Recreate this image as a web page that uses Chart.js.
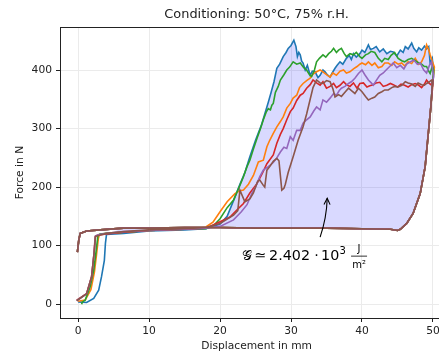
<!DOCTYPE html>
<html lang="en">
<head>
  <meta charset="UTF-8" />
  <title>Conditioning: 50°C, 75% r.H.</title>
  <script src="https://cdn.jsdelivr.net/npm/chart.js"></script>
  <style>
    html, body { margin: 0; padding: 0; background: #fff; }
    canvas { display: block; }
  </style>
</head>
<body>
  <canvas id="grafica" width="439" height="354"></canvas>

  <script>
    // --- datos (desplazamiento en mm, fuerza en N) ---
    const blueX = [0.0, 1.2, 2.2, 2.9, 3.3, 3.7, 3.85, 4.0, 6.4, 10, 15, 18, 20, 21, 22, 22.8, 23.5, 24.2, 25, 25.8, 26.3, 26.8, 27.2, 27.6, 28, 28.4, 28.9, 29.3, 29.6, 30.0, 30.4, 30.7, 30.9, 31.1, 31.3, 31.5, 31.7, 32.0, 32.3, 32.7, 33.0, 33.4, 33.8, 34.1, 34.5, 34.8, 35.1, 35.5, 35.8, 36.2, 36.5, 36.9, 37.3, 37.8, 38.2, 38.5, 38.8, 39.2, 39.7, 40.0, 40.4, 40.9, 41.2, 41.6, 42.0, 42.5, 43.0, 43.5, 44.0, 44.4, 44.9, 45.4, 45.8, 46.1, 46.5, 47.0, 47.3, 47.7, 48.0, 48.4, 48.8, 49.1, 49.4, 49.6, 49.9, 50.1];
    const blueY = [4, 3, 10, 24, 47, 75, 104, 119, 121, 125, 127, 129, 137, 150, 180, 205, 225, 252, 280, 305, 325, 345, 362, 380, 403, 410, 423, 430, 437, 442, 451, 440, 423, 430, 426, 415, 412, 400, 408, 391, 398, 397, 387, 391, 400, 397, 392, 388, 395, 403, 408, 414, 410, 420, 425, 418, 428, 422, 428, 434, 430, 443, 435, 437, 440, 431, 436, 428, 432, 431, 424, 434, 430, 440, 436, 446, 437, 431, 438, 434, 441, 436, 440, 412, 420, 395];

    const orangeX = [0.0, 1.0, 1.8, 2.3, 2.6, 2.85, 3.0, 4.0, 6.4, 10, 15, 18, 19, 20, 21, 22.1, 22.8, 23.3, 24.0, 24.7, 25.4, 26.1, 26.6, 27.0, 27.5, 28.0, 28.5, 28.9, 29.4, 29.9, 30.3, 30.8, 31.2, 31.7, 32.2, 32.7, 33.1, 33.6, 34.1, 34.5, 35.0, 35.5, 35.9, 36.4, 36.9, 37.4, 37.8, 38.3, 38.8, 39.3, 39.7, 40.0, 40.5, 40.9, 41.4, 41.8, 42.3, 42.8, 43.2, 43.7, 44.2, 44.6, 45.1, 45.6, 46.0, 46.5, 47.0, 47.5, 48.0, 48.4, 48.8, 49.1, 49.4, 49.6, 49.9, 50.2];
    const orangeY = [5, 7, 25, 55, 85, 112, 119, 121, 123, 126, 128, 132, 140, 158, 175, 189, 194, 195, 205, 220, 243, 246, 269, 280, 292, 303, 312, 320, 335, 343, 352, 357, 370, 377, 382, 386, 393, 397, 400, 397, 392, 388, 395, 391, 398, 400, 395, 397, 402, 406, 410, 412, 409, 414, 408, 412, 404, 406, 412, 412, 408, 414, 410, 412, 407, 414, 411, 420, 410, 414, 425, 443, 435, 426, 415, 405];

    const greenX = [0.5, 0.6, 1.0, 1.7, 2.2, 2.5, 2.8, 3.1, 4.0, 6.4, 10, 15, 18, 19, 20, 21, 21.9, 22.8, 23.3, 23.8, 24.2, 24.7, 25.2, 25.7, 26.1, 26.5, 26.8, 27.1, 27.3, 27.5, 27.8, 28.2, 28.5, 29.0, 29.4, 29.8, 30.3, 30.8, 31.3, 31.8, 32.2, 32.6, 32.9, 33.3, 33.6, 34.0, 34.5, 34.9, 35.3, 35.7, 36.0, 36.4, 36.7, 37.1, 37.5, 37.8, 38.3, 38.8, 39.2, 39.7, 40.0, 40.5, 40.9, 41.3, 41.8, 42.3, 42.8, 43.2, 43.7, 44.1, 44.6, 45.1, 45.6, 46.0, 46.5, 47.0, 47.5, 48.0, 48.4, 48.8, 49.1, 49.4, 49.6, 49.9, 50.1];
    const greenY = [0, 4, 7, 30, 58, 87, 118, 120, 121, 123, 126, 128, 129, 133, 146, 165, 178, 203, 218, 235, 246, 265, 283, 300, 315, 328, 334, 332, 340, 343, 362, 372, 383, 392, 400, 405, 414, 410, 412, 404, 400, 392, 389, 400, 414, 420, 426, 422, 428, 432, 437, 430, 434, 437, 428, 423, 428, 426, 430, 423, 420, 426, 428, 432, 430, 420, 414, 420, 418, 425, 430, 420, 416, 414, 418, 420, 416, 412, 410, 406, 406, 398, 394, 406, 400];

    const redX = [-0.2, 1.2, 1.9, 2.25, 2.4, 2.7, 4.0, 6.4, 10, 15, 18, 20, 21.4, 22.3, 23.3, 24.2, 25.2, 25.9, 26.6, 27.5, 28.0, 28.5, 28.9, 29.4, 29.9, 30.3, 30.8, 31.3, 31.7, 32.2, 32.7, 33.1, 33.6, 34.1, 34.5, 35.0, 35.5, 36.0, 36.4, 36.9, 37.4, 37.8, 38.3, 38.8, 39.3, 39.7, 40.2, 40.7, 41.1, 41.6, 42.0, 42.5, 43.0, 43.5, 44.0, 44.4, 45.0, 45.5, 46.0, 46.5, 47.0, 47.5, 48.0, 48.4, 48.8, 49.1, 49.4, 49.7, 50.0];
    const redY = [7, 18, 47, 87, 115, 118, 120, 123, 126, 128, 130, 141, 149, 160, 172, 190, 206, 222, 240, 255, 275, 290, 300, 315, 329, 335, 348, 357, 360, 369, 375, 383, 378, 374, 380, 369, 372, 377, 370, 374, 380, 375, 372, 378, 369, 377, 378, 371, 373, 375, 378, 379, 372, 374, 377, 375, 371, 376, 374, 371, 375, 377, 374, 370, 376, 383, 378, 375, 380];

    const purpleX = [-0.2, 1.2, 1.9, 2.25, 2.45, 3.0, 4.0, 6.4, 10, 15, 18, 20, 21.9, 23.0, 23.8, 24.5, 25.0, 25.6, 26.1, 26.8, 27.5, 28.0, 28.5, 29.0, 29.4, 29.9, 30.3, 30.8, 31.3, 31.7, 32.2, 32.7, 33.2, 33.6, 34.1, 34.5, 35.0, 35.5, 36.0, 36.4, 36.8, 37.1, 37.6, 38.1, 38.5, 39.0, 39.5, 40.0, 40.4, 40.9, 41.3, 41.6, 42.0, 42.5, 43.0, 43.4, 43.9, 44.4, 44.9, 45.4, 45.9, 46.3, 46.8, 47.3, 47.8, 48.2, 48.7, 49.1, 49.5, 49.8, 50.1];
    const purpleY = [6, 18, 47, 87, 117, 119, 121, 124, 126, 128, 130, 133, 144, 158, 170, 190, 200, 218, 229, 235, 242, 250, 260, 268, 266, 286, 280, 297, 297, 309, 315, 320, 330, 337, 332, 349, 345, 352, 360, 357, 365, 369, 372, 377, 380, 386, 394, 400, 392, 383, 378, 374, 382, 391, 395, 400, 406, 412, 404, 408, 402, 410, 414, 417, 410, 412, 400, 395, 408, 414, 388];

    const brownX = [-0.2, 1.2, 1.9, 2.25, 2.45, 3.0, 4.0, 6.4, 10, 15, 18, 20, 21.9, 22.5, 22.8, 23.5, 24.2, 24.7, 25.3, 25.6, 26.1, 26.3, 26.6, 27.0, 27.5, 28.0, 28.3, 28.7, 29.0, 29.2, 29.6, 30.3, 31.0, 31.7, 32.2, 32.7, 33.1, 33.6, 34.1, 34.5, 35.0, 35.5, 35.9, 36.2, 36.7, 37.1, 37.6, 38.1, 38.6, 39.0, 39.5, 40.0, 40.5, 40.9, 41.4, 41.8, 42.3, 42.8, 43.2, 43.7, 44.2, 44.6, 45.1, 45.6, 46.1, 46.5, 47.0, 47.5, 47.9, 48.4, 48.8, 49.1, 49.5, 49.8, 50.1];
    const brownY = [6, 18, 47, 87, 116, 118, 121, 124, 127, 129, 131, 138, 152, 160, 195, 175, 180, 190, 210, 212, 203, 200, 229, 235, 244, 249, 245, 195, 198, 205, 225, 252, 280, 303, 325, 350, 370, 383, 378, 377, 382, 380, 368, 354, 358, 355, 362, 369, 364, 360, 369, 363, 355, 349, 352, 354, 360, 363, 366, 366, 370, 372, 371, 374, 380, 378, 376, 372, 378, 375, 374, 377, 380, 383, 383];

    // descarga comun a todas las probetas (vuelta por debajo)
    const retX = [50.0, 49.9, 49.7, 49.3, 48.9, 48.2, 47.2, 46.3, 45.4, 45.0, 44.0, 40, 35, 30, 25, 20, 15, 10, 6.4, 3.1, 1.2, 0.3, 0.1, -0.1];
    const retY = [383, 371, 337, 286, 235, 189, 155, 138, 128, 126, 128, 129, 130, 130, 130, 131, 131, 130, 130, 127, 125, 121, 110, 89];

    const xTicks = [0, 10, 20, 30, 40, 50];
    const yTicks = [0, 100, 200, 300, 400];
    const xLim = [-2.55, 50.85];
    const yLim = [-23.5, 473.5];
    const xLimReal = 52.85;   // el eje original sigue mas alla del recorte de la imagen

    const textoPos = [23.1, 76.4];      // anotacion G
    const flechaDesde = [34.1, 114.5];
    const flechaHasta = [35.1, 181];

    const titulo = 'Conditioning: 50°C, 75% r.H.';
    const tituloX = 'Displacement in mm';
    const tituloY = 'Force in N';

    const fuente = "'DejaVu Sans', sans-serif";
    const tinta = '#222';

    function puntos(xs, ys) {
      return xs.map((x, i) => ({ x, y: ys[i] }));
    }
    function lazo(xs, ys) {
      return puntos(xs, ys).concat(puntos(retX, retY));
    }

    const relleno = puntos(blueX, blueY).filter(p => p.x >= 4)
      .concat(puntos(retX, retY).filter(p => p.x >= 4));

    const series = [
      { d: lazo(blueX, blueY), c: '#1f77b4' },
      { d: lazo(orangeX, orangeY), c: '#ff7f0e' },
      { d: lazo(greenX, greenY), c: '#2ca02c' },
      { d: lazo(redX, redY), c: '#d62728' },
      { d: lazo(purpleX, purpleY), c: '#9467bd' },
      { d: lazo(brownX, brownY), c: '#8c564b' }
    ];

    const datasets = [{
      data: relleno,
      fill: 'shape',
      backgroundColor: 'rgba(0, 0, 255, 0.15)',
      borderWidth: 0,
      pointRadius: 0,
      order: 20
    }];
    series.forEach((s, i) => {
      datasets.push({
        data: s.d,
        borderColor: s.c,
        borderWidth: 1.6,
        pointRadius: 0,
        fill: false,
        tension: 0,
        order: 10 - i
      });
    });

    // borde superior del marco + titulos centrados sobre el eje completo
    const marco = {
      id: 'marco',
      afterDraw(chart) {
        const { ctx, chartArea: a, scales: { x } } = chart;
        ctx.save();
        ctx.strokeStyle = tinta;
        ctx.lineWidth = 1;
        ctx.beginPath();
        const y = Math.round(a.top) + 0.5;
        ctx.moveTo(a.left, y);
        ctx.lineTo(a.right, y);
        ctx.stroke();

        const centro = (a.left + x.getPixelForValue(xLimReal)) / 2;
        ctx.fillStyle = tinta;
        ctx.textAlign = 'center';
        ctx.textBaseline = 'alphabetic';
        ctx.font = '12.9px ' + fuente;
        ctx.fillText(titulo, centro, 17.8);
        ctx.font = '10.7px ' + fuente;
        ctx.fillText(tituloX, centro, a.bottom + 30.5);
        ctx.restore();
      }
    };

    // texto G = ... y flecha curva
    const anotacion = {
      id: 'anotacion',
      afterDatasetsDraw(chart) {
        const { ctx, scales: { x, y } } = chart;
        const px = x.getPixelForValue(textoPos[0]);
        const py = y.getPixelForValue(textoPos[1]);
        ctx.save();
        ctx.fillStyle = '#000';
        ctx.textBaseline = 'alphabetic';
        ctx.textAlign = 'left';
        ctx.font = '14.3px ' + fuente;
        ctx.fillText('𝒢', px, py);
        ctx.fillText('≃', px + 12.5, py);
        ctx.fillText('2.402', px + 27, py);
        ctx.textAlign = 'center';
        ctx.fillText('·', px + 74.5, py);
        ctx.textAlign = 'left';
        ctx.fillText('10', px + 79, py);
        ctx.font = '10px ' + fuente;
        ctx.fillText('3', px + 97.5, py - 6);
        ctx.textAlign = 'center';
        ctx.fillText('J', px + 117, py - 8);
        ctx.fillText('m²', px + 117, py + 8.7);
        ctx.fillRect(px + 109, py - 3.8, 16, 0.8);

        // flecha
        const x0 = x.getPixelForValue(flechaDesde[0]), y0 = y.getPixelForValue(flechaDesde[1]);
        const x1 = x.getPixelForValue(flechaHasta[0]), y1 = y.getPixelForValue(flechaHasta[1]);
        const cx = (x0 + x1) / 2 + 3, cy = (y0 + y1) / 2;
        ctx.strokeStyle = '#000';
        ctx.lineWidth = 1.1;
        ctx.beginPath();
        ctx.moveTo(x0, y0);
        ctx.quadraticCurveTo(cx, cy, x1, y1);
        ctx.stroke();
        const ang = Math.atan2(y1 - cy, x1 - cx);
        const L = 7, w = 0.45;
        ctx.beginPath();
        ctx.moveTo(x1 - L * Math.cos(ang - w), y1 - L * Math.sin(ang - w));
        ctx.lineTo(x1, y1);
        ctx.lineTo(x1 - L * Math.cos(ang + w), y1 - L * Math.sin(ang + w));
        ctx.stroke();
        ctx.restore();
      }
    };

    const ejeTicks = (lista) => (scale) => {
      scale.ticks = lista.map(v => ({ value: v }));
    };

    new Chart(document.getElementById('grafica'), {
      type: 'line',
      data: { datasets },
      options: {
        responsive: false,
        animation: false,
        layout: { padding: { top: 27, left: 0, right: 0, bottom: 0 } },
        plugins: {
          legend: { display: false },
          tooltip: { enabled: false },
          title: { display: false }
        },
        scales: {
          x: {
            type: 'linear',
            min: xLim[0],
            max: xLim[1],
            afterBuildTicks: ejeTicks(xTicks),
            ticks: { color: tinta, font: { family: fuente, size: 10.7 }, padding: 3, maxRotation: 0 },
            grid: { color: '#ebebeb', lineWidth: 1, tickColor: tinta, tickLength: 4 },
            border: { color: tinta, width: 1 },
            afterFit(s) { s.height = 36; s.paddingLeft = 0; s.paddingRight = 0; }
          },
          y: {
            type: 'linear',
            min: yLim[0],
            max: yLim[1],
            afterBuildTicks: ejeTicks(yTicks),
            ticks: { color: tinta, font: { family: fuente, size: 10.7 }, padding: 4 },
            grid: { color: '#ebebeb', lineWidth: 1, tickColor: tinta, tickLength: 4 },
            border: { color: tinta, width: 1 },
            title: {
              display: true,
              text: tituloY,
              color: tinta,
              font: { family: fuente, size: 10.7 },
              padding: { top: 14, bottom: 0 }
            },
            afterFit(s) { s.width = 60; s.paddingTop = 0; s.paddingBottom = 0; }
          }
        }
      },
      plugins: [marco, anotacion]
    });
  </script>
</body>
</html>
